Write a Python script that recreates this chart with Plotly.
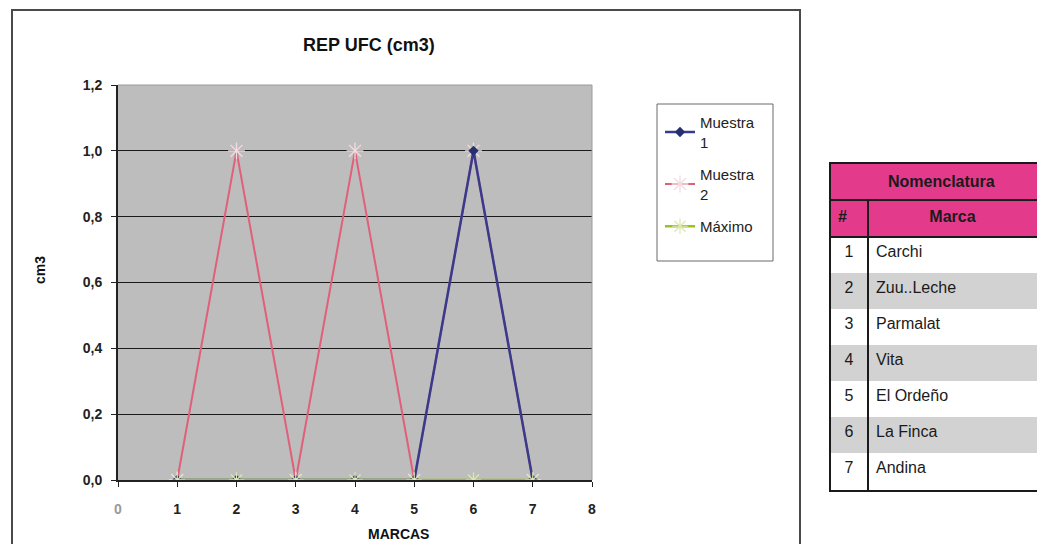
import plotly.graph_objects as go

# ---- data ----
marcas = [1, 2, 3, 4, 5, 6, 7]
muestra1 = [0, 0, 0, 0, 0, 1, 0]
muestra2 = [0, 1, 0, 1, 0, 1, 0]
maximo = [0, 0, 0, 0, 0, 0, 0]
x_tick_vals = [0, 1, 2, 3, 4, 5, 6, 7, 8]
y_tick_vals = [0, 0.2, 0.4, 0.6, 0.8, 1.0, 1.2]
tabla_num = ["1", "2", "3", "4", "5", "6", "7"]
tabla_marca = ["Carchi", "Zuu..Leche", "Parmalat", "Vita", "El Ordeño", "La Finca", "Andina"]

W, H = 1037, 544
FONT = "Liberation Sans, Arial, sans-serif"


def fx(p):
    return p / W


def fy(p):
    return 1 - p / H


fig = go.Figure()

# pink first (drawn under blue), legend order fixed with legendrank
fig.add_trace(go.Scatter(
    x=marcas, y=muestra2, name="Muestra<br>2", mode="lines+markers",
    line=dict(color="#e0607a", width=2),
    marker=dict(symbol="asterisk-open", size=14, color="#f2dce0", line=dict(width=1.3, color="#f2dce0")),
    legendrank=2, legendgroup="b"))
fig.add_trace(go.Scatter(
    x=marcas, y=muestra1, name="Muestra<br>1", mode="lines+markers",
    line=dict(color="#3a3a8c", width=2.5),
    marker=dict(symbol="diamond", size=8, color="#26306e"),
    legendrank=1, legendgroup="a"))
fig.add_trace(go.Scatter(
    x=marcas, y=maximo, name="Máximo", mode="lines+markers",
    line=dict(color="#9cc21c", width=2.5),
    marker=dict(symbol="asterisk-open", size=13, color="#dce8b0", line=dict(width=1.2, color="#dce8b0")),
    legendrank=3, legendgroup="c"))

# table (numbers / brand names)
row_fill = ["#ffffff" if i % 2 == 0 else "#d2d2d2" for i in range(len(tabla_num))]
fig.add_trace(go.Table(
    domain=dict(x=[fx(830), 1.0], y=[fy(491), fy(200)]),
    columnwidth=[38, 169],
    header=dict(values=["<b>#</b>", "<b>Marca</b>"],
                fill=dict(color="#e33a8c"),
                line=dict(color="rgba(0,0,0,0)", width=0.1),
                align=["left", "center"], height=37,
                font=dict(family=FONT, size=16, color="#1a1a1a")),
    cells=dict(values=[tabla_num, tabla_marca],
               fill=dict(color=[row_fill, row_fill]),
               line=dict(color="rgba(0,0,0,0)", width=0.1),
               align=["center", "left"], height=36,
               font=dict(family=FONT, size=16, color="#1a1a1a")),
))

shapes = [
    # outer chart frame
    dict(type="rect", xref="paper", yref="paper", x0=fx(12), x1=fx(800), y0=fy(10), y1=fy(580),
         line=dict(color="#4a4a4a", width=2), layer="below"),
    # legend box
    dict(type="rect", xref="paper", yref="paper", x0=fx(657), x1=fx(773), y0=fy(104), y1=fy(261),
         line=dict(color="#6a6a6a", width=1), fillcolor="white", layer="below"),
    # plot area light border (top/right)
    dict(type="line", xref="paper", yref="paper", x0=fx(118), x1=fx(592), y0=fy(85), y1=fy(85),
         line=dict(color="#9a9a9a", width=1)),
    dict(type="line", xref="paper", yref="paper", x0=fx(592), x1=fx(592), y0=fy(85), y1=fy(480),
         line=dict(color="#9a9a9a", width=1)),
    # table: Nomenclatura band
    dict(type="rect", xref="paper", yref="paper", x0=fx(830), x1=1.0, y0=fy(200), y1=fy(163),
         line=dict(width=0), fillcolor="#e33a8c"),
    # table borders
    dict(type="rect", xref="paper", yref="paper", x0=fx(830), x1=fx(1060), y0=fy(491), y1=fy(163),
         line=dict(color="#1a1a1a", width=2)),
    dict(type="line", xref="paper", yref="paper", x0=fx(830), x1=1.0, y0=fy(200), y1=fy(200),
         line=dict(color="#1a1a1a", width=2)),
    dict(type="line", xref="paper", yref="paper", x0=fx(830), x1=1.0, y0=fy(237), y1=fy(237),
         line=dict(color="#1a1a1a", width=2)),
    dict(type="line", xref="paper", yref="paper", x0=fx(868), x1=fx(868), y0=fy(491), y1=fy(200),
         line=dict(color="#1a1a1a", width=2)),
]

x_tick_text = ['<span style="color:#9a9a9a">0</span>'] + [str(v) for v in x_tick_vals[1:]]

annotations = [
    dict(text="<b>REP UFC (cm3)</b>", xref="paper", yref="paper", x=fx(369), y=fy(45),
         showarrow=False, font=dict(family=FONT, size=18, color="#111"), xanchor="center", yanchor="middle"),
    dict(text="<b>cm3</b>", xref="paper", yref="paper", x=fx(40), y=fy(270), textangle=-90,
         showarrow=False, font=dict(family=FONT, size=14, color="#111"), xanchor="center", yanchor="middle"),
    dict(text="<b>MARCAS</b>", xref="paper", yref="paper", x=fx(398), y=fy(534),
         showarrow=False, font=dict(family=FONT, size=14, color="#111"), xanchor="center", yanchor="middle"),
    dict(text="<b>Nomenclatura</b>", xref="paper", yref="paper", x=fx(941), y=fy(182),
         showarrow=False, font=dict(family=FONT, size=16, color="#1a1a1a"), xanchor="center", yanchor="middle"),
]

fig.update_layout(
    width=W, height=H,
    margin=dict(l=0, r=0, t=0, b=0, pad=0, autoexpand=False),
    paper_bgcolor="white",
    plot_bgcolor="#bdbdbd",
    separators=",.",
    font=dict(family=FONT, color="#111"),
    xaxis=dict(domain=[fx(118), fx(592)], range=[0, 8], tickvals=x_tick_vals, ticktext=x_tick_text,
               showgrid=False, zeroline=False, showline=True, linecolor="#222", linewidth=2,
               ticks="outside", ticklen=5, tickcolor="#222", automargin=False, ticklabelstandoff=10,
               tickfont=dict(family=FONT, size=14, weight="bold", color="#222")),
    yaxis=dict(domain=[fy(480), fy(85)], range=[0, 1.2], tickvals=y_tick_vals, tickformat=".1f",
               showgrid=True, gridcolor="#1a1a1a", gridwidth=1, zeroline=False,
               showline=True, linecolor="#222", linewidth=2,
               ticks="outside", ticklen=5, tickcolor="#222", automargin=False, ticklabelstandoff=6,
               tickfont=dict(family=FONT, size=14, weight="bold", color="#222")),
    showlegend=True,
    legend=dict(x=fx(660), y=fy(106), xanchor="left", yanchor="top",
                bgcolor="rgba(0,0,0,0)", borderwidth=0, tracegroupgap=10,
                font=dict(family=FONT, size=15, color="#222")),
    shapes=shapes,
    annotations=annotations,
)

fig.write_html("out.html")
